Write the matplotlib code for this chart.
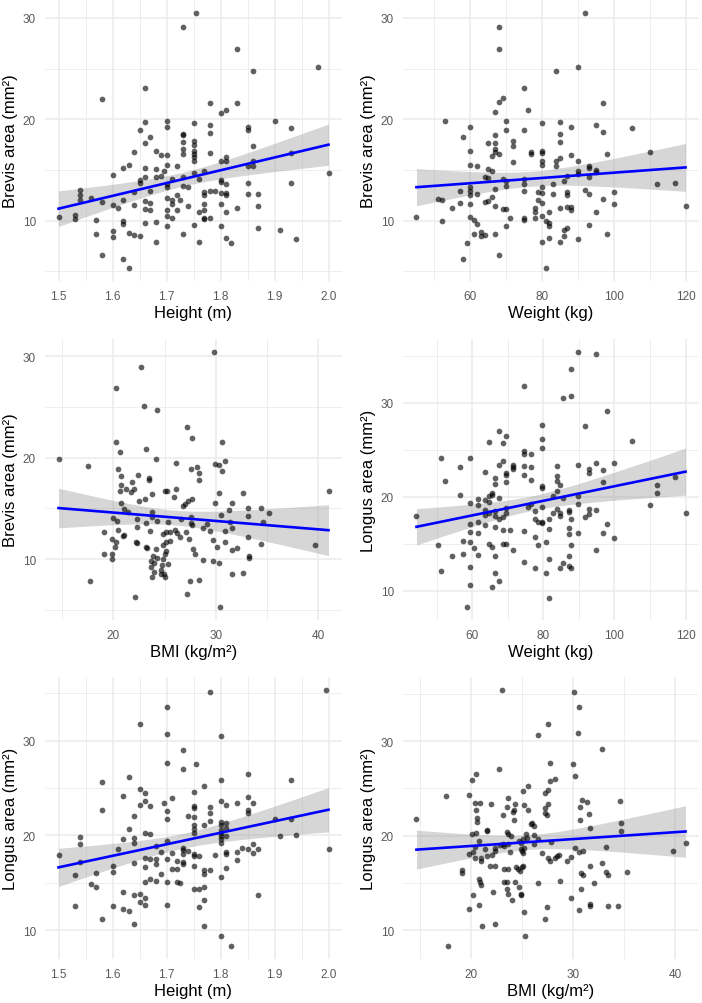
import matplotlib
matplotlib.use("Agg")
import matplotlib.pyplot as plt
import numpy as np

plt.rcParams['font.family'] = ['Liberation Sans', 'DejaVu Sans']

# ---- data: (x, y) per panel ----
height_brevis = [
    (1.755, 30.5), (1.73, 29.05), (1.83, 26.97), (1.86, 24.77), (1.98, 25.16), (1.66, 23.06), (1.58, 22.0),
    (1.78, 21.64), (1.83, 21.64), (1.81, 20.95), (1.80, 20.6), (1.90, 19.87), (1.70, 19.87), (1.70, 19.28),
    (1.66, 19.7), (1.75, 19.6), (1.78, 19.4), (1.85, 19.28), (1.85, 18.9), (1.93, 19.1), (1.65, 18.9),
    (1.78, 18.6), (1.73, 18.55), (1.73, 18.4), (1.67, 18.2), (1.66, 17.7), (1.73, 17.8), (1.75, 17.9),
    (1.75, 17.5), (1.86, 17.4), (1.64, 16.8), (1.68, 16.9), (1.73, 17.1), (1.75, 16.9), (1.75, 16.6),
    (1.75, 16.25), (1.75, 15.9), (1.73, 16.6), (1.69, 16.5), (1.70, 16.5), (1.78, 16.7), (1.93, 16.7),
    (1.81, 16.25), (1.80, 15.9), (1.81, 15.85), (1.86, 15.9), (1.63, 15.5), (1.70, 15.5), (1.72, 15.4),
    (1.62, 15.2), (1.66, 15.2), (1.68, 15.1), (1.695, 14.9), (1.77, 14.9), (1.85, 15.4), (1.86, 15.4),
    (1.60, 14.5), (1.75, 14.7), (1.65, 14.0), (1.66, 14.3), (1.68, 14.3), (1.69, 14.4), (1.71, 14.1),
    (1.73, 14.3), (1.76, 14.1), (1.80, 14.0), (1.80, 13.85), (1.81, 13.6), (1.65, 13.7), (1.70, 13.6),
    (1.73, 13.4), (1.74, 13.3), (1.85, 13.7), (1.93, 13.7), (1.64, 12.8), (1.67, 12.9), (1.70, 13.3),
    (1.72, 12.5), (1.77, 12.8), (1.77, 12.5), (1.78, 12.9), (1.79, 12.96), (1.80, 12.7), (1.81, 12.7),
    (1.81, 12.5), (1.85, 12.6), (1.87, 12.6), (1.54, 13.0), (1.54, 12.5), (1.54, 12.0), (1.56, 12.2),
    (1.58, 11.8), (1.60, 11.5), (1.61, 11.2), (1.62, 12.0), (1.64, 11.5), (1.66, 11.9), (1.67, 11.75),
    (1.66, 11.1), (1.67, 11.0), (1.70, 12.2), (1.71, 12.0), (1.71, 11.65), (1.725, 12.0), (1.74, 11.4),
    (1.72, 11.0), (1.70, 11.0), (1.71, 10.3), (1.70, 10.5), (1.77, 11.6), (1.77, 11.0), (1.76, 10.8),
    (1.77, 10.3), (1.78, 10.3), (1.77, 10.2), (1.80, 11.6), (1.81, 10.8), (1.83, 11.25), (1.87, 11.4),
    (1.50, 10.4), (1.53, 10.55), (1.53, 10.2), (1.57, 10.1), (1.62, 10.0), (1.62, 9.7), (1.66, 9.8),
    (1.68, 9.9), (1.70, 9.5), (1.75, 9.6), (1.80, 9.5), (1.57, 8.7), (1.60, 9.0), (1.60, 8.4),
    (1.63, 8.75), (1.64, 8.6), (1.65, 8.5), (1.73, 8.65), (1.87, 9.3), (1.91, 9.1), (1.68, 7.9),
    (1.76, 7.85), (1.81, 8.25), (1.82, 7.8), (1.94, 8.2), (1.58, 6.6), (1.62, 6.25), (1.63, 5.3),
    (2.00, 14.7),
]

weight_brevis = [
    (92, 30.5), (68, 29.05), (68, 26.97), (84, 24.77), (90, 25.16), (75, 23.06), (76, 20.95), (69, 22.07),
    (68, 21.7), (67, 20.7), (97, 21.64), (53, 19.87), (60, 19.2), (70, 19.87), (70, 18.9), (75, 18.95),
    (80, 19.6), (85, 19.7), (88, 19.28), (95, 19.4), (97, 18.7), (105, 19.1), (58, 18.2), (67, 18.4),
    (85, 18.55), (85, 17.8), (65, 17.7), (67, 17.7), (72, 17.9), (72, 17.4), (60, 16.9), (67, 17.1),
    (67, 16.75), (68, 16.6), (66, 16.4), (77, 16.75), (77, 16.6), (80, 16.9), (80, 16.7), (88, 16.5),
    (98, 16.6), (110, 16.8), (72, 15.8), (80, 15.85), (80, 15.5), (84, 15.85), (84, 15.4), (85, 16.2),
    (90, 15.9), (60, 15.5), (62, 15.4), (65, 15.1), (66, 14.9), (93, 15.4), (93, 15.2), (95, 15.0),
    (95, 14.8), (90, 14.9), (64, 14.3), (65, 14.2), (69, 14.1), (70, 13.95), (70, 13.45), (75, 14.1),
    (75, 13.6), (80, 13.35), (83, 13.6), (86, 13.95), (87, 14.4), (90, 14.6), (93, 14.3), (112, 13.6),
    (117, 13.7), (60, 13.3), (60, 12.9), (60, 12.5), (62, 12.6), (57, 12.9), (67, 13.1), (75, 12.9),
    (79, 12.8), (80, 12.7), (83, 12.6), (87, 12.8), (87, 12.5), (92, 13.0), (93, 12.6), (100, 12.8),
    (51, 12.1), (52, 12.0), (55, 11.2), (57, 11.75), (60, 11.6), (64, 11.8), (65, 11.9), (66, 12.3),
    (67, 11.4), (69, 11.1), (70, 11.1), (71, 10.3), (75, 10.3), (75, 10.1), (78, 11.2), (78, 10.8),
    (78, 10.3), (79, 12.0), (80, 11.7), (80, 10.5), (81, 10.0), (82, 9.8), (82, 9.5), (82, 10.8),
    (85, 11.2), (87, 11.3), (88, 11.3), (88, 11.0), (95, 10.8), (97, 12.1), (100, 11.65), (120, 11.4),
    (45, 10.4), (52, 10.0), (60, 10.4), (61, 10.05), (62, 9.7), (70, 9.5), (93, 9.6), (86, 9.1),
    (87, 9.25), (61, 8.7), (63, 8.5), (63, 8.9), (64, 8.6), (67, 8.7), (86, 8.5), (98, 8.65),
    (59, 7.8), (80, 7.9), (82, 8.25), (85, 7.9), (90, 8.2), (58, 6.2), (68, 6.6), (81, 5.3),
]

bmi_brevis = [
    (29.87, 30.43), (22.69, 28.95), (20.29, 26.89), (22.98, 25.08), (24.27, 24.69), (27.18, 23.02),
    (27.67, 21.97), (20.29, 21.57), (30.61, 21.57), (20.65, 20.59), (23.17, 20.89), (24.17, 19.84),
    (14.66, 19.84), (17.51, 19.18), (26.15, 19.5), (27.54, 18.85), (28.16, 19.08), (28.41, 18.52),
    (28.41, 17.77), (29.94, 19.34), (30.36, 19.25), (30.87, 19.67), (30.65, 18.66), (20.45, 18.85),
    (20.78, 18.2), (22.40, 18.3), (21.84, 17.6), (23.53, 18.0), (23.53, 17.77), (20.78, 17.3),
    (21.23, 16.9), (20.65, 16.66), (21.72, 16.56), (22.04, 16.9), (22.49, 15.74), (23.14, 15.9),
    (23.79, 16.46), (25.05, 16.66), (25.21, 16.72), (26.15, 16.9), (25.95, 16.16), (27.70, 15.9),
    (27.31, 15.74), (26.99, 15.41), (26.83, 15.25), (29.97, 15.48), (30.32, 16.49), (32.69, 16.49),
    (31.62, 15.48), (31.33, 14.85), (30.49, 14.36), (33.14, 15.08), (34.43, 15.08), (35.15, 14.49),
    (34.56, 13.67), (40.99, 16.72), (20.74, 15.48), (21.04, 14.92), (21.46, 14.59), (20.0, 14.0),
    (20.32, 13.77), (22.33, 13.93), (23.75, 14.66), (23.75, 14.16), (24.27, 13.77), (25.31, 13.67),
    (26.63, 13.93), (27.54, 14.1), (27.54, 13.6), (27.70, 13.34), (29.13, 13.44), (31.39, 13.67),
    (30.91, 12.79), (31.55, 13.02), (33.11, 14.26), (20.45, 12.89), (21.04, 12.36), (20.94, 12.23),
    (19.09, 12.69), (22.36, 13.11), (23.20, 13.54), (23.62, 12.79), (24.82, 12.46), (25.18, 12.62),
    (25.50, 12.69), (26.05, 12.89), (26.21, 12.56), (26.47, 12.13), (27.12, 12.62), (27.41, 11.97),
    (28.71, 13.02), (29.39, 12.72), (29.71, 11.9), (30.16, 11.15), (30.87, 11.64), (31.59, 10.92),
    (32.04, 11.11), (33.17, 12.13), (34.43, 11.48), (39.68, 11.38), (19.84, 11.97), (20.29, 11.64),
    (20.16, 11.15), (19.09, 10.46), (19.90, 10.46), (19.90, 10.0), (22.23, 11.64), (22.27, 11.57),
    (23.24, 11.15), (23.30, 11.05), (24.21, 10.98), (24.85, 11.41), (25.18, 11.7), (25.57, 11.8),
    (25.18, 10.82), (23.88, 10.26), (24.24, 10.07), (24.82, 10.0), (25.08, 10.49), (25.34, 9.51),
    (23.69, 9.84), (23.95, 9.57), (23.69, 9.18), (24.01, 8.69), (24.79, 9.41), (24.66, 8.95),
    (24.98, 8.52), (23.82, 8.2), (24.66, 8.52), (25.05, 8.2), (27.96, 10.49), (27.77, 10.98),
    (28.74, 9.93), (29.71, 9.77), (30.36, 9.57), (33.20, 10.33), (33.27, 10.13), (17.77, 7.8),
    (27.44, 7.87), (28.38, 7.97), (31.59, 8.52), (32.69, 8.62), (27.22, 6.56), (22.10, 6.23),
    (30.45, 5.25),
]

weight_longus = [
    (89.85, 35.42), (94.8, 35.17), (87.7, 33.6), (74.55, 31.77), (85.65, 30.5), (87.7, 30.74), (97.8, 29.08),
    (79.7, 27.6), (91.7, 27.52), (67.55, 26.99), (69.6, 26.5), (68.6, 25.68), (64.6, 25.82), (104.9, 25.9),
    (79.7, 26.2), (79.7, 25.15), (51.3, 24.16), (59.5, 24.09), (74.55, 24.83), (74.55, 24.51), (76.6, 24.58),
    (68.6, 23.84), (67.55, 23.38), (71.6, 23.38), (71.6, 23.13), (71.6, 22.92), (74.6, 23.27), (76.6, 23.17),
    (83.7, 23.27), (89.8, 23.38), (94.8, 23.63), (99.8, 23.63), (56.5, 23.13), (63.5, 22.67), (69.6, 22.57),
    (69.6, 22.32), (74.6, 22.35), (83.7, 22.21), (92.7, 22.92), (92.7, 22.57), (96.8, 22.89), (52.4, 21.68),
    (66.5, 22.0), (66.5, 21.4), (69.6, 21.6), (76.6, 21.79), (83.7, 21.68), (84.7, 21.26), (79.7, 21.15),
    (79.7, 20.97), (96.8, 21.57), (111.9, 21.22), (111.9, 20.44), (117.0, 22.14), (56.5, 20.16),
    (61.5, 19.72), (63.5, 19.66), (64.6, 20.09), (64.6, 19.44), (65.6, 20.44), (65.6, 20.19), (67.55, 19.9),
    (59.5, 19.38), (61.5, 19.13), (83.7, 20.62), (82.7, 20.09), (85.6, 19.9), (89.8, 20.09), (89.8, 19.2),
    (109.9, 19.17), (75.7, 18.9), (77.6, 18.5), (79.7, 18.95), (76.6, 19.2), (69.6, 18.85), (69.6, 18.32),
    (66.5, 18.5), (66.5, 17.96), (63.5, 18.57), (63.5, 18.04), (64.6, 18.32), (68.6, 17.86), (67.55, 17.68),
    (61.5, 17.33), (59.5, 17.08), (77.6, 17.6), (78.55, 17.33), (79.7, 17.33), (79.7, 17.18), (81.6, 17.68),
    (82.7, 18.32), (83.7, 18.67), (84.7, 18.32), (84.7, 17.96), (87.2, 18.39), (87.2, 18.6), (87.7, 17.6),
    (92.7, 18.74), (92.7, 18.14), (91.7, 17.9), (94.8, 18.6), (120.0, 18.32), (44.3, 17.93), (63.5, 16.97),
    (61.5, 16.2), (59.5, 16.27), (68.6, 16.48), (70.5, 16.48), (66.5, 16.83), (74.6, 16.37), (81.6, 16.62),
    (87.2, 16.66), (89.8, 16.12), (97.8, 17.08), (96.8, 16.12), (99.8, 15.66), (77.6, 15.77), (59.5, 15.2),
    (50.4, 14.85), (57.5, 15.31), (64.6, 15.03), (65.6, 14.67), (60.5, 14.6), (68.6, 15.03), (69.6, 15.03),
    (78.55, 14.88), (80.7, 15.2), (87.2, 16.02), (87.7, 14.92), (94.8, 14.32), (71.6, 14.35), (54.4, 13.72),
    (57.5, 13.97), (61.5, 13.82), (66.5, 13.68), (87.2, 13.72), (74.6, 13.12), (81.6, 13.37), (85.6, 12.94),
    (84.7, 12.44), (87.2, 12.66), (87.7, 12.48), (59.5, 12.55), (77.6, 12.48), (51.3, 12.12), (80.7, 11.95),
    (66.5, 11.88), (67.55, 11.03), (59.5, 10.6), (65.6, 10.42), (81.6, 9.29), (58.5, 8.27),
]

height_longus = [
    (1.995, 35.36), (1.78, 35.11), (1.70, 33.56), (1.65, 31.76), (1.70, 30.74), (1.80, 30.53), (1.73, 29.05),
    (1.70, 27.6), (1.73, 27.0), (1.755, 27.53), (1.85, 26.47), (1.63, 26.19), (1.58, 25.66), (1.80, 25.84),
    (1.93, 25.87), (1.77, 25.17), (1.65, 24.89), (1.66, 24.46), (1.62, 24.18), (1.75, 24.6), (1.85, 24.07),
    (1.71, 23.9), (1.66, 23.65), (1.695, 23.4), (1.83, 23.4), (1.86, 23.4), (1.75, 23.12), (1.75, 22.87),
    (1.65, 23.23), (1.67, 23.12), (1.80, 23.65), (1.81, 23.23), (1.78, 22.95), (1.85, 22.7), (1.70, 22.6),
    (1.58, 22.66), (1.78, 22.35), (1.64, 22.06), (1.74, 22.06), (1.85, 22.35), (1.75, 21.89), (1.70, 21.71),
    (1.78, 21.53), (1.77, 21.11), (1.80, 21.43), (1.80, 21.11), (1.81, 21.36), (1.90, 21.78), (1.93, 21.78),
    (1.63, 20.72), (1.75, 21.08), (1.75, 20.65), (1.75, 20.3), (1.80, 20.58), (1.80, 20.3), (1.81, 20.76),
    (1.66, 20.23), (1.67, 20.19), (1.64, 19.74), (1.64, 19.24), (1.62, 19.6), (1.54, 19.88), (1.54, 19.14),
    (1.70, 19.42), (1.80, 19.95), (1.80, 19.6), (1.80, 19.24), (1.81, 19.95), (1.91, 19.95), (1.94, 20.05),
    (1.68, 18.89), (1.69, 18.25), (1.71, 18.18), (1.73, 18.71), (1.73, 18.43), (1.73, 18.0), (1.74, 18.36),
    (1.75, 18.08), (1.75, 17.83), (1.76, 17.83), (1.79, 17.9), (1.81, 18.25), (1.81, 18.0), (1.83, 18.29),
    (1.84, 18.71), (1.85, 18.54), (1.86, 19.06), (1.86, 18.11), (1.87, 18.54), (2.00, 18.61), (1.50, 17.94),
    (1.61, 18.54), (1.66, 17.65), (1.67, 17.55), (1.68, 17.55), (1.70, 17.55), (1.72, 17.3), (1.73, 17.2),
    (1.73, 16.95), (1.72, 16.49), (1.71, 16.42), (1.75, 16.77), (1.68, 16.95), (1.64, 17.13), (1.54, 17.23),
    (1.60, 16.77), (1.66, 16.7), (1.81, 16.6), (1.83, 17.41), (1.78, 16.35), (1.77, 16.35), (1.60, 16.17),
    (1.57, 16.07), (1.53, 15.78), (1.69, 15.89), (1.77, 15.89), (1.80, 15.64), (1.66, 15.08), (1.67, 15.36),
    (1.68, 15.18), (1.70, 15.08), (1.72, 15.08), (1.725, 15.0), (1.56, 14.9), (1.57, 14.55), (1.75, 14.37),
    (1.76, 14.3), (1.77, 14.59), (1.62, 14.02), (1.64, 13.74), (1.65, 13.77), (1.66, 13.39), (1.87, 13.67),
    (1.77, 13.14), (1.65, 12.96), (1.66, 12.61), (1.53, 12.54), (1.60, 12.54), (1.70, 12.61), (1.76, 12.47),
    (1.62, 12.19), (1.63, 12.01), (1.58, 11.13), (1.64, 10.6), (1.77, 10.42), (1.80, 9.36), (1.82, 8.31),
]

bmi_longus = [
    (22.99, 35.43), (30.08, 35.25), (30.53, 33.65), (27.57, 31.84), (30.50, 30.85), (26.6, 30.64),
    (32.84, 29.15), (22.73, 27.09), (27.74, 27.7), (29.95, 27.59), (30.18, 26.28), (20.46, 26.56),
    (20.07, 25.92), (25.56, 25.21), (27.74, 25.74), (28.23, 25.96), (25.14, 24.68), (17.53, 24.15),
    (19.77, 24.26), (27.24, 24.54), (27.51, 24.79), (23.61, 23.97), (34.56, 23.69), (20.42, 23.48),
    (20.85, 23.48), (21.98, 23.3), (24.26, 23.37), (23.48, 23.01), (25.17, 23.26), (27.51, 23.37),
    (27.24, 22.94), (30.86, 23.72), (31.31, 23.55), (30.66, 23.01), (31.51, 22.3), (20.46, 22.66),
    (24.19, 22.66), (24.1, 22.55), (25.62, 22.66), (23.09, 22.13), (27.24, 22.41), (27.41, 22.13),
    (14.67, 21.74), (20.62, 21.84), (20.62, 21.49), (24.23, 21.67), (30.66, 21.67), (34.66, 21.35),
    (34.66, 20.53), (25.88, 21.24), (26.01, 21.35), (26.14, 21.06), (21.53, 20.6), (21.53, 20.46),
    (31.61, 20.78), (20.1, 20.18), (20.52, 20.25), (20.78, 19.47), (23.54, 20.35), (23.67, 20.18),
    (23.9, 20.0), (25.36, 20.18), (25.49, 19.75), (26.21, 20.07), (25.07, 19.65), (24.71, 19.47),
    (24.91, 19.18), (26.14, 19.11), (26.53, 19.65), (27.83, 19.29), (23.12, 19.11), (23.61, 19.11),
    (23.22, 18.94), (20.42, 18.76), (20.16, 18.23), (19.84, 18.05), (20.36, 17.59), (20.94, 17.59),
    (20.94, 17.34), (21.33, 18.58), (21.53, 17.8), (22.08, 17.98), (22.31, 18.4), (22.31, 18.69),
    (22.89, 19.0), (23.8, 18.3), (24.91, 18.58), (24.97, 18.33), (25.07, 18.16), (25.23, 18.65),
    (26.92, 18.16), (27.51, 17.59), (27.74, 17.34), (28.23, 17.59), (28.42, 17.87), (28.65, 17.98),
    (29.4, 17.34), (29.79, 17.7), (30.21, 18.65), (30.53, 18.3), (30.92, 18.4), (32.81, 17.09),
    (31.64, 16.74), (30.76, 16.03), (30.99, 15.82), (33.23, 18.83), (33.2, 16.1), (33.43, 15.82),
    (35.25, 16.17), (39.73, 18.4), (40.99, 19.22), (21.82, 16.81), (22.37, 16.81), (23.28, 16.45),
    (23.61, 16.45), (24.39, 16.63), (24.58, 16.45), (24.75, 16.28), (24.97, 16.63), (25.1, 16.74),
    (19.15, 16.38), (19.15, 16.03), (20.75, 15.39), (20.85, 15.11), (21.01, 14.75), (23.28, 15.11),
    (23.54, 15.11), (24.26, 15.04), (24.71, 14.57), (26.6, 14.96), (28.75, 15.21), (32.0, 14.96),
    (30.76, 14.33), (20.2, 13.72), (22.11, 14.04), (23.51, 14.33), (23.61, 13.87), (24.0, 13.19),
    (24.91, 13.79), (24.94, 13.69), (29.79, 13.4), (19.77, 12.2), (20.75, 12.62), (25.17, 11.95),
    (27.48, 12.48), (30.53, 12.13), (31.64, 12.8), (31.64, 12.55), (33.39, 12.55), (34.43, 12.55),
    (27.28, 11.13), (21.07, 10.43), (22.31, 10.6), (25.3, 9.36), (17.79, 8.3),
]

brevis_label = "Brevis area (mm²)"
longus_label = "Longus area (mm²)"
height_ticks = [1.5, 1.6, 1.7, 1.8, 1.9, 2.0]
weight_ticks = [60, 80, 100, 120]
bmi_ticks = [20, 30, 40]

panels = [
    # data, xlabel, ylabel, xticks, xminor, yticks, yminor, box (left, top, right, bottom px)
    (height_brevis, "Height (m)", brevis_label, height_ticks, np.arange(1.45, 2.06, 0.1),
     [10, 20, 30], [5, 15, 25], (45, 1, 342, 282)),
    (weight_brevis, "Weight (kg)", brevis_label, weight_ticks, [50, 70, 90, 110],
     [10, 20, 30], [5, 15, 25], (403, 1, 699, 282)),
    (bmi_brevis, "BMI (kg/m²)", brevis_label, bmi_ticks, [15, 25, 35],
     [10, 20, 30], [5, 15, 25], (45, 340, 342, 621)),
    (weight_longus, "Weight (kg)", longus_label, weight_ticks, [50, 70, 90, 110],
     [10, 20, 30], [15, 25, 35], (403, 340, 699, 621)),
    (height_longus, "Height (m)", longus_label, height_ticks, np.arange(1.45, 2.06, 0.1),
     [10, 20, 30], [15, 25, 35], (45, 678, 342, 960)),
    (bmi_longus, "BMI (kg/m²)", longus_label, bmi_ticks, [15, 25, 35],
     [10, 20, 30], [15, 25, 35], (403, 678, 699, 960)),
]

W, H = 702, 1004
fig = plt.figure(figsize=(W / 100, H / 100), dpi=100)

grid_col = "#EBEBEB"

for data, xl, yl, xt, xm, yt, ym, (l, t, r, b) in panels:
    ax = fig.add_axes([l / W, 1 - b / H, (r - l) / W, (b - t) / H])
    xy = np.array(data)
    x, y = xy[:, 0], xy[:, 1]

    # ggplot-like 5% expansion
    dx = (x.max() - x.min()) * 0.05
    dy = (y.max() - y.min()) * 0.05
    ax.set_xlim(x.min() - dx, x.max() + dx)
    ax.set_ylim(y.min() - dy, y.max() + dy)

    # grid
    for v in xt:
        ax.axvline(v, color=grid_col, lw=1.1, zorder=0)
    for v in xm:
        ax.axvline(v, color=grid_col, lw=0.6, zorder=0)
    for v in yt:
        ax.axhline(v, color=grid_col, lw=1.1, zorder=0)
    for v in ym:
        ax.axhline(v, color=grid_col, lw=0.6, zorder=0)

    # linear fit + 95% CI
    n = len(x)
    slope, icpt = np.polyfit(x, y, 1)
    xs = np.linspace(x.min(), x.max(), 80)
    fit = icpt + slope * xs
    resid = y - (icpt + slope * x)
    s = np.sqrt(np.sum(resid ** 2) / (n - 2))
    sxx = np.sum((x - x.mean()) ** 2)
    se = s * np.sqrt(1 / n + (xs - x.mean()) ** 2 / sxx)
    tval = 1.976
    ax.fill_between(xs, fit - tval * se, fit + tval * se, color="#999999", alpha=0.4,
                    lw=0, zorder=2)

    ax.scatter(x, y, s=17, color="black", alpha=0.62, linewidths=0, zorder=3)
    ax.plot(xs, fit, color="blue", lw=1.9, zorder=4)

    ax.set_xticks(xt)
    ax.set_xticklabels([f"{v:g}" if isinstance(v, int) else f"{v:.1f}" for v in xt])
    ax.set_yticks(yt)
    ax.tick_params(length=0, labelsize=8.5, labelcolor="#595959", pad=6.5)
    for sp in ax.spines.values():
        sp.set_visible(False)

    ax.set_xlabel(xl, fontsize=12, color="black")
    ax.set_ylabel(yl, fontsize=12, color="black")
    ax.xaxis.set_label_coords(0.5, -0.085)
    ax.yaxis.set_label_coords(-0.09, 0.5)

fig.savefig("out.png", dpi=100)
